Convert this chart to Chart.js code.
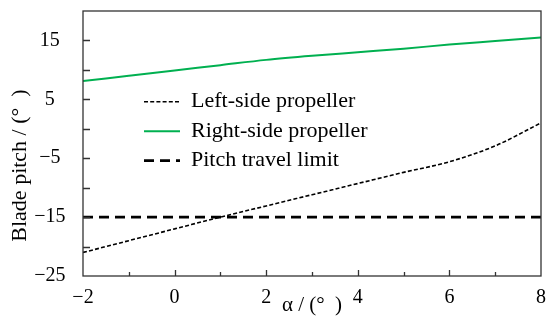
<!DOCTYPE html>
<html><head><meta charset="utf-8">
<script src="https://cdn.jsdelivr.net/npm/chart.js@4.4.0/dist/chart.umd.min.js"></script>
<style>html,body{margin:0;padding:0;background:#fff;}canvas{display:block;}</style>
</head><body>
<canvas id="c" width="550" height="335"></canvas>
<script>
// ---- data ----
const alphaDeg   = [-2, -1, 0, 1, 2, 3, 4, 5, 6, 7, 8];
const leftPitch  = [-21.0, -19.0, -17.0, -15.0, -13.1, -11.2, -9.3, -7.4, -5.6, -2.9, 1.0];
const rightPitch = [8.1, 9.0, 9.9, 10.8, 11.7, 12.4, 13.0, 13.6, 14.3, 14.9, 15.5];
const limitAlpha = [-2, 8];
const limitPitch = [-15, -15];
const seriesNames = ['Left-side propeller', 'Right-side propeller', 'Pitch travel limit'];
const xLabelValues = [-2, 0, 2, 4, 6, 8];
const xTickLabels  = ['\u22122', '0', '2', '4', '6', '8'];
const yLabelValues = [-25, -15, -5, 5, 15];
const yTickLabels  = ['\u221225', '\u221215', '\u22125', '5', '15'];
const xTitle = '\u03b1 / (\u00b0  )';
const yTitle = 'Blade pitch / (\u00b0  )';

const FONT = "'Liberation Serif', 'Times New Roman', serif";
const toXY = (xs, ys) => xs.map((x, i) => ({x, y: ys[i]}));

const frameTicks = {
  id: 'frameTicks',
  afterLayout(chart) {
    const lg = chart.legend;
    if (!lg) return;
    const w = lg.width, h = lg.height;
    lg.left = 136.5; lg.top = 83.2;
    lg.right = lg.left + w; lg.bottom = lg.top + h;
  },
  afterDraw(chart) {
    const {ctx, chartArea: a, scales: {x, y}} = chart;
    ctx.save();
    ctx.strokeStyle = '#333';
    ctx.lineWidth = 1.3;
    ctx.setLineDash([]);
    ctx.strokeRect(a.left, a.top, a.right - a.left, a.bottom - a.top);
    ctx.beginPath();
    x.ticks.forEach(t => {
      if (t.value <= x.min || t.value >= x.max) return;
      const px = Math.round(x.getPixelForValue(t.value)) + 0.5;
      const len = (t.value % 2 === 0) ? 6 : 4;
      ctx.moveTo(px, a.bottom); ctx.lineTo(px, a.bottom - len);
    });
    y.ticks.forEach(t => {
      if (t.value <= y.min || t.value >= y.max) return;
      const py = Math.round(y.getPixelForValue(t.value)) + 0.5;
      ctx.moveTo(a.left, py); ctx.lineTo(a.left + 7, py);
    });
    ctx.stroke();
    ctx.restore();
  }
};

const hiddenTicks = len => ({ display: true, drawOnChartArea: false, drawTicks: true, tickLength: len, color: 'rgba(0,0,0,0)' });

new Chart(document.getElementById('c'), {
  type: 'line',
  data: {
    datasets: [
      { label: seriesNames[0], data: toXY(alphaDeg, leftPitch), borderColor: '#000', borderWidth: 1.6,
        borderDash: [4, 2.2], pointRadius: 0, cubicInterpolationMode: 'monotone', fill: false },
      { label: seriesNames[1], data: toXY(alphaDeg, rightPitch), borderColor: '#00b050', borderWidth: 2,
        pointRadius: 0, cubicInterpolationMode: 'monotone', fill: false },
      { label: seriesNames[2], data: toXY(limitAlpha, limitPitch), borderColor: '#000', borderWidth: 2.8,
        borderDash: [10, 6], pointRadius: 0, fill: false }
    ]
  },
  options: {
    responsive: false,
    devicePixelRatio: 1,
    animation: false,
    layout: { padding: { left: 0, right: 9, top: 11, bottom: 0 } },
    plugins: {
      tooltip: { enabled: false },
      legend: {
        position: 'chartArea',
        align: 'start',
        labels: {
          font: { family: FONT, size: 22 },
          color: '#000',
          usePointStyle: true,
          pointStyle: 'line',
          pointStyleWidth: 36,
          padding: 7.5,
          generateLabels(chart) {
            return chart.data.datasets.map((ds, i) => ({
              text: ds.label, datasetIndex: i, hidden: false,
              strokeStyle: ds.borderColor, fillStyle: ds.borderColor,
              lineWidth: ds.borderWidth, lineDash: ds.borderDash || [],
              lineCap: 'butt', pointStyle: 'line', fontColor: '#000'
            }));
          }
        }
      }
    },
    scales: {
      x: {
        type: 'linear', min: -2, max: 8,
        grid: hiddenTicks(10),
        border: { display: false },
        ticks: {
          stepSize: 1, padding: 0, color: '#000', maxRotation: 0, autoSkip: false,
          font: { family: FONT, size: 20 },
          callback: v => { const i = xLabelValues.indexOf(v); return i >= 0 ? xTickLabels[i] : ''; }
        },
        title: { display: true, text: xTitle, color: '#000', font: { family: FONT, size: 21 },
                 padding: { top: 0, bottom: 17 } },
        afterFit: s => { s.height = 59; }
      },
      y: {
        min: -25, max: 20,
        grid: hiddenTicks(17.5),
        border: { display: false },
        ticks: {
          stepSize: 5, padding: 0, color: '#000', crossAlign: 'center', autoSkip: false,
          font: { family: FONT, size: 20, lineHeight: 1 },
          callback: v => { const i = yLabelValues.indexOf(v); return i >= 0 ? yTickLabels[i] : ''; }
        },
        title: { display: true, text: yTitle + '\u2003\u2003', color: '#000', font: { family: FONT, size: 22 },
                 padding: { top: 7, bottom: 0 } },
        afterFit: s => { s.width = 83; }
      }
    }
  },
  plugins: [frameTicks]
});
</script>
</body></html>
